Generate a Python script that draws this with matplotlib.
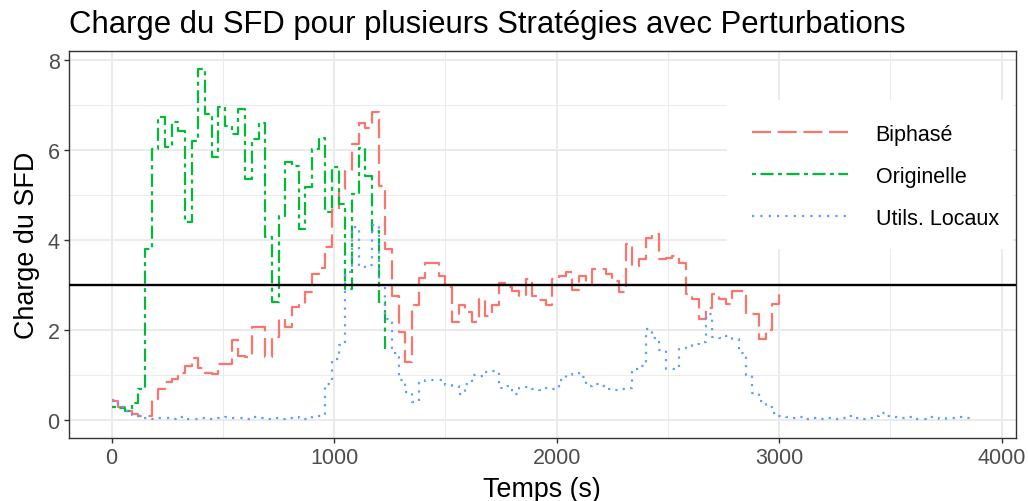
import numpy as np
import matplotlib
matplotlib.use("Agg")
import matplotlib.pyplot as plt
from matplotlib.lines import Line2D
from matplotlib.patches import Rectangle

plt.rcParams['font.family'] = ['Liberation Sans', 'DejaVu Sans']
plt.rcParams['lines.scale_dashes'] = False

# ---------------- data ----------------
step_seconds = 30  # sampling interval (s)

biphase = [0.43, 0.29, 0.21, 0.13, 0.10, 0.10, 0.47, 0.69, 0.85, 0.91,
           1.05, 1.20, 1.37, 1.15, 1.05, 1.02, 1.25, 1.25, 1.77, 1.43,
           1.40, 2.07, 2.07, 1.40, 1.84, 2.25, 2.07, 2.52, 2.58, 2.84,
           3.25, 3.38, 3.85, 4.67, 5.14, 5.55, 6.15, 6.60, 6.49, 6.86,
           5.21, 3.81, 2.77, 1.96, 1.29, 2.55, 3.16, 3.50, 3.50, 3.20,
           2.95, 2.18, 2.55, 2.40, 2.18, 2.70, 2.32, 2.56, 3.05, 2.95,
           2.88, 2.77, 3.14, 2.75, 2.67, 2.56, 3.14, 3.20, 3.30, 2.90,
           3.20, 3.05, 3.36, 3.36, 3.25, 3.10, 2.85, 3.92, 3.43, 3.58,
           4.05, 4.14, 3.58, 3.60, 3.66, 3.50, 2.80, 2.70, 2.25, 2.50,
           2.80, 2.70, 2.58, 2.88, 2.88, 2.36, 2.36, 1.80, 2.00, 2.58,
           2.80]

originelle = [0.29, 0.27, 0.20, 0.37, 0.68, 3.81, 6.04, 6.75, 6.08, 6.64,
              6.44, 4.41, 6.21, 7.82, 6.82, 5.86, 6.97, 6.55, 6.37, 6.93,
              5.37, 6.26, 6.61, 4.08, 2.63, 4.55, 5.74, 5.66, 4.25, 5.19,
              6.04, 6.28, 4.63, 5.63, 4.81, 2.92, 5.03, 6.06, 5.43, 4.20,
              2.63, 1.58]

utils_locaux = [0.45, 0.30, 0.20, 0.12, 0.08, 0.05, 0.03, 0.05, 0.04, 0.03,
                0.06, 0.02, 0.02, 0.05, 0.03, 0.03, 0.04, 0.06, 0.05, 0.04,
                0.03, 0.07, 0.05, 0.02, 0.04, 0.03, 0.04, 0.06, 0.05, 0.03,
                0.08, 0.10, 0.80, 1.35, 1.67, 3.30, 4.30, 3.40, 3.45, 4.35,
                2.95, 2.25, 1.50, 0.90, 0.62, 0.40, 0.85, 0.90, 0.90, 0.88,
                0.78, 0.76, 0.58, 0.80, 1.00, 0.98, 1.07, 1.10, 0.72, 0.75,
                0.58, 0.72, 0.73, 0.70, 0.66, 0.72, 0.70, 0.88, 1.00, 1.05,
                0.95, 0.75, 0.80, 0.75, 0.70, 0.66, 0.70, 0.72, 1.13, 1.20,
                2.03, 1.83, 1.55, 1.13, 1.13, 1.60, 1.65, 1.70, 1.74, 2.35,
                1.85, 1.83, 1.88, 1.80, 1.50, 1.00, 0.60, 0.42, 0.30, 0.16,
                0.10, 0.06, 0.05, 0.06, 0.03, 0.05, 0.03, 0.04, 0.02, 0.05,
                0.09, 0.05, 0.03, 0.04, 0.09, 0.16, 0.09, 0.06, 0.05, 0.06,
                0.03, 0.02, 0.06, 0.05, 0.03, 0.05, 0.04, 0.07, 0.05, 0.06]

series_names = ["Biphasé", "Originelle", "Utils. Locaux"]
threshold = 3

title = "Charge du SFD pour plusieurs Stratégies avec Perturbations"
xlabel = "Temps (s)"
ylabel = "Charge du SFD"
xticks = [0, 1000, 2000, 3000, 4000]
yticks = [0, 2, 4, 6, 8]

# ---------------- styling ----------------
colors = ["#F8766D", "#00BA38", "#619CFF"]
dashes = [(13.7, 4.8), (2.9, 3.2, 9.4, 3.2), (1.6, 4.4)]
lw = 1.6

W, H = 1028, 502
fig = plt.figure(figsize=(W / 100, H / 100), dpi=100)
px_l, px_r, px_t, px_b = 68.6, 1015.8, 52.0, 438.6
ax = fig.add_axes([px_l / W, 1 - px_b / H, (px_r - px_l) / W, (px_b - px_t) / H])
aw, ah = px_r - px_l, px_b - px_t

all_series = [biphase, originelle, utils_locaux]
handles = []
for vals, name, c, d in zip(all_series, series_names, colors, dashes):
    t = np.arange(len(vals)) * step_seconds
    ax.step(t, vals, where="post", color=c, lw=lw, dashes=d,
            dash_capstyle="butt", label=name, zorder=3)
    handles.append(Line2D([], [], color=c, lw=lw, dashes=d, dash_capstyle="butt"))

ax.axhline(threshold, color="black", lw=1.7, zorder=4)

# ggplot-like expansion
tmax = max((len(v) - 1) * step_seconds for v in all_series)
vmax = max(max(v) for v in all_series)
vmin = 0
ax.set_xlim(-0.05 * tmax, tmax * 1.05)
ax.set_ylim(vmin - 0.05 * (vmax - vmin), vmax + 0.05 * (vmax - vmin))

ax.set_xticks(xticks)
ax.set_yticks(yticks)
ax.set_xticks([500, 1500, 2500, 3500], minor=True)
ax.set_yticks([1, 3, 5, 7], minor=True)
ax.grid(which="major", color="#EBEBEB", lw=1.4, zorder=0)
ax.grid(which="minor", color="#EBEBEB", lw=0.7, zorder=0)
ax.set_axisbelow(True)
ax.tick_params(which="major", length=3.6, width=1.0, color="#333333",
               labelsize=15.5, labelcolor="#4D4D4D", pad=2.9)
ax.tick_params(which="minor", length=0)
for s in ax.spines.values():
    s.set_color("#333333")
    s.set_linewidth(1.0)

fig.text(px_l / W, 1 - 33 / H, title, fontsize=22.4, ha="left", va="baseline")
fig.text((px_l + px_r) / 2 / W, 1 - 497 / H, xlabel, fontsize=19.4,
         ha="center", va="baseline")
fig.text(27 / W, 1 - (px_t + px_b) / 2 / H, ylabel, fontsize=19.4,
         rotation=90, ha="center", va="center")

# legend background box (inside panel)
box_l, box_r, box_t, box_b = 727, 1013, 101, 250
ax.add_patch(Rectangle(((box_l - px_l) / aw, (px_b - box_b) / ah),
                       (box_r - box_l) / aw, (box_b - box_t) / ah,
                       transform=ax.transAxes, facecolor="white",
                       edgecolor="none", zorder=1))

leg = ax.legend(handles, series_names, loc="upper left",
                bbox_to_anchor=((box_l - px_l) / aw, (px_b - box_t + 1) / ah),
                frameon=False, fontsize=15.5,
                handlelength=4.45, handletextpad=1.3, labelspacing=0.97,
                borderpad=1.15, borderaxespad=0)

fig.savefig("out.png", dpi=100)
